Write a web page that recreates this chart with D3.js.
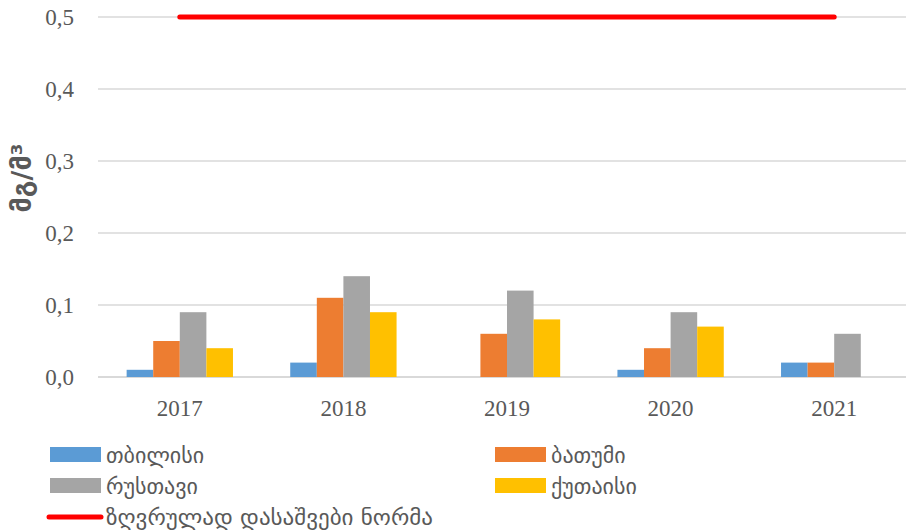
<!DOCTYPE html>
<html>
<head>
<meta charset="utf-8">
<script src="https://cdn.jsdelivr.net/npm/d3@7/dist/d3.min.js"></script>
<style>
  body { margin: 0; background: #fff; }
</style>
</head>
<body>
<div id="chart"></div>
<script>
const width = 906;
const height = 531;

const years = ['2017', '2018', '2019', '2020', '2021'];
const cities = ['თბილისი', 'ბათუმი', 'რუსთავი', 'ქუთაისი'];
const colors = ['#5b9bd5', '#ed7d31', '#a5a5a5', '#ffc000'];

// values per city, one per year (null = no bar)
const tbilisi = [0.01, 0.02, null, 0.01, 0.02];
const batumi = [0.05, 0.11, 0.06, 0.04, 0.02];
const rustavi = [0.09, 0.14, 0.12, 0.09, 0.06];
const kutaisi = [0.04, 0.09, 0.08, 0.07, null];
const series = [tbilisi, batumi, rustavi, kutaisi];

const normLabel = 'ზღვრულად დასაშვები ნორმა';
const norm = [0.5, 0.5, 0.5, 0.5, 0.5];

const yTicks = [0, 0.1, 0.2, 0.3, 0.4, 0.5];

const svg = d3.select('#chart')
  .append('svg')
    .attr('width', width)
    .attr('height', height);

const x = d3.scaleBand().domain(years).range([98, 916]).paddingInner(0.35).paddingOuter(0.175);
const x1 = d3.scaleBand().domain(d3.range(cities.length)).range([0, x.bandwidth()]);
const y = d3.scaleLinear().domain([0, 0.5]).range([377, 17]);

const fmt = d => d3.format('.1f')(d).replace('.', ',');

// grid lines
svg.append('g')
  .selectAll('line')
  .data(yTicks)
  .join('line')
    .attr('x1', 98)
    .attr('x2', width)
    .attr('y1', d => y(d))
    .attr('y2', d => y(d))
    .attr('stroke', '#d9d9d9')
    .attr('stroke-width', d => d === 0 ? 2 : 1.5);

// y axis labels
const yAxis = svg.append('g')
  .attr('transform', 'translate(74,0)')
  .call(d3.axisLeft(y).tickValues(yTicks).tickFormat(fmt).tickSize(0).tickPadding(0));
yAxis.select('.domain').remove();
yAxis.selectAll('text')
  .attr('font-family', '"Liberation Serif", serif')
  .attr('font-size', 23)
  .attr('fill', '#595959');

// x axis labels
const xAxis = svg.append('g')
  .attr('transform', 'translate(0,377)')
  .call(d3.axisBottom(x).tickSize(0).tickPadding(23));
xAxis.select('.domain').remove();
xAxis.selectAll('text')
  .attr('font-family', '"Liberation Serif", serif')
  .attr('font-size', 23)
  .attr('fill', '#595959');

// bars
series.forEach((vals, i) => {
  svg.append('g')
    .attr('fill', colors[i])
    .selectAll('rect')
    .data(years.map((yr, j) => ({ yr, v: vals[j] })).filter(d => d.v !== null))
    .join('rect')
      .attr('x', d => x(d.yr) + x1(i))
      .attr('y', d => y(d.v))
      .attr('width', x1.bandwidth())
      .attr('height', d => y(0) - y(d.v));
});

// norm line
const line = d3.line()
  .x((d, i) => x(years[i]) + x.bandwidth() / 2)
  .y(d => y(d));
svg.append('path')
  .datum(norm)
  .attr('d', line)
  .attr('fill', 'none')
  .attr('stroke', '#ff0000')
  .attr('stroke-width', 5)
  .attr('stroke-linecap', 'round');

// y title
svg.append('text')
  .attr('transform', 'translate(22,178) rotate(-90)')
  .attr('text-anchor', 'middle')
  .attr('dy', '0.35em')
  .attr('font-family', '"DejaVu Sans", sans-serif')
  .attr('font-size', 26)
  .attr('font-weight', 'bold')
  .attr('textLength', 69)
  .attr('lengthAdjust', 'spacingAndGlyphs')
  .attr('fill', '#595959')
  .text('მგ/მ³');

// legend
const legendPos = [[50, 455], [495, 455], [50, 486], [495, 486]];
const legend = svg.append('g')
  .attr('font-family', '"DejaVu Sans", sans-serif')
  .attr('font-size', 22)
  .attr('fill', '#595959');

cities.forEach((c, i) => {
  const [lx, ly] = legendPos[i];
  legend.append('rect')
    .attr('x', lx)
    .attr('y', ly - 8)
    .attr('width', 51)
    .attr('height', 15)
    .attr('fill', colors[i]);
  legend.append('text')
    .attr('x', lx + 56)
    .attr('y', ly)
    .attr('dy', '0.35em')
    .text(c);
});

legend.append('line')
  .attr('x1', 49)
  .attr('x2', 101)
  .attr('y1', 517)
  .attr('y2', 517)
  .attr('stroke', '#ff0000')
  .attr('stroke-width', 5)
  .attr('stroke-linecap', 'round');
legend.append('text')
  .attr('x', 106)
  .attr('y', 517)
  .attr('dy', '0.35em')
  .attr('textLength', 327)
  .attr('lengthAdjust', 'spacingAndGlyphs')
  .text(normLabel);
</script>
</body>
</html>
